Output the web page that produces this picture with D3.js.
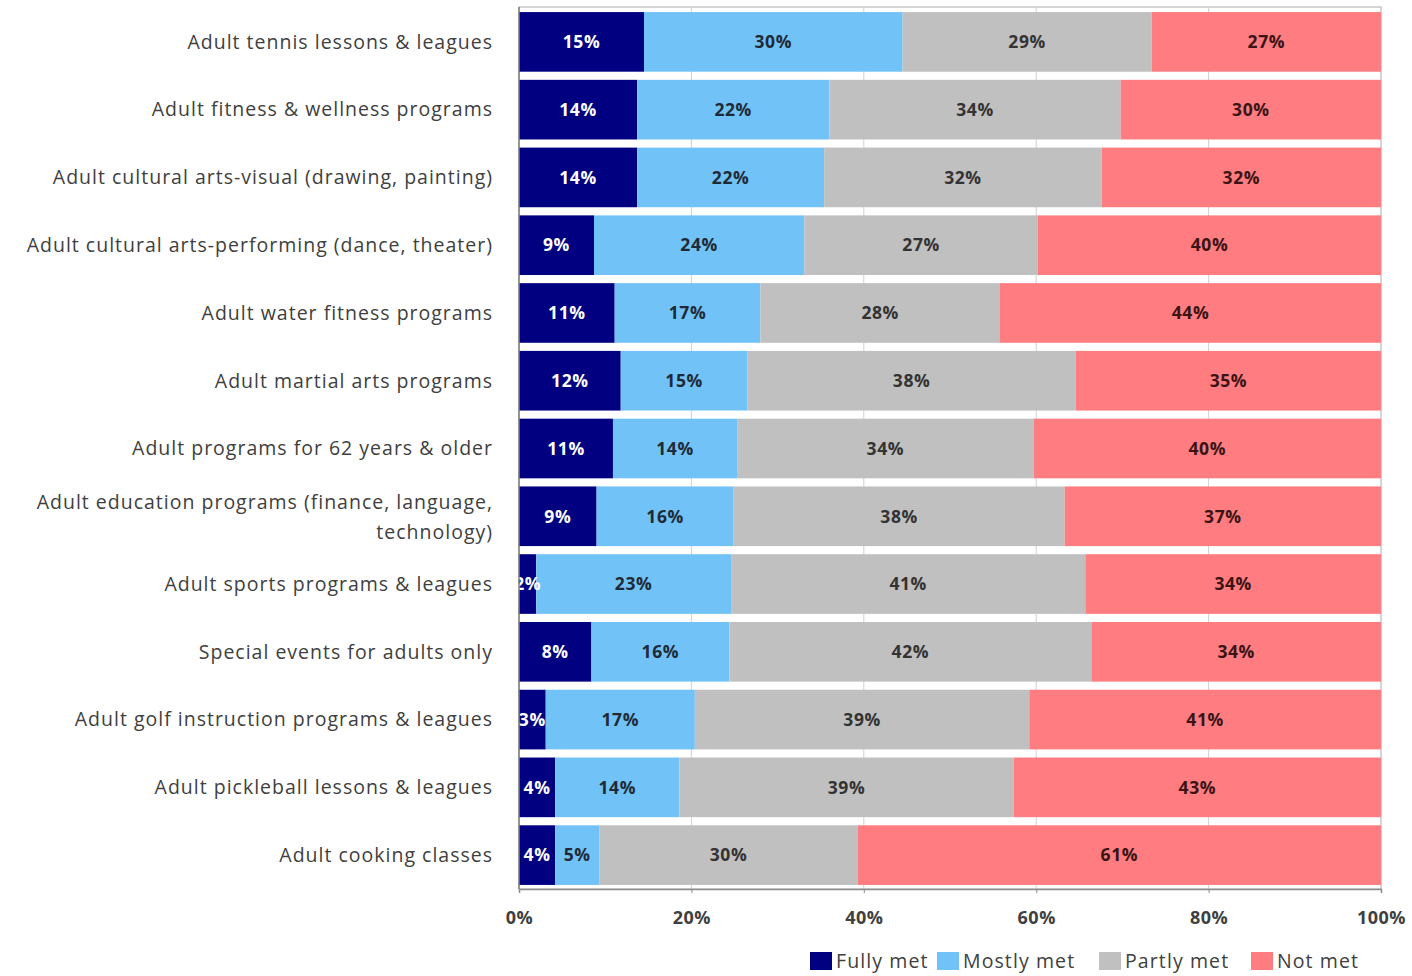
<!DOCTYPE html>
<html>
<head>
<meta charset="utf-8">
<script src="https://cdn.jsdelivr.net/npm/d3@7"></script>
<style>
  body { margin: 0; background: #ffffff; }
  svg { display: block; font-family: "Open Sans", Lato, sans-serif; }
</style>
</head>
<body>
<script>
const categories = [
  "Adult tennis lessons & leagues",
  "Adult fitness & wellness programs",
  "Adult cultural arts-visual (drawing, painting)",
  "Adult cultural arts-performing (dance, theater)",
  "Adult water fitness programs",
  "Adult martial arts programs",
  "Adult programs for 62 years & older",
  "Adult education programs (finance, language,|technology)",
  "Adult sports programs & leagues",
  "Special events for adults only",
  "Adult golf instruction programs & leagues",
  "Adult pickleball lessons & leagues",
  "Adult cooking classes"
];
const seriesNames = ["Fully met", "Mostly met", "Partly met", "Not met"];
const fullyMet  = [14.5, 13.7, 13.7, 8.7, 11.1, 11.8, 10.9, 9.0, 2.0, 8.4, 3.1, 4.2, 4.2];
const mostlyMet = [30.0, 22.3, 21.7, 24.4, 16.9, 14.7, 14.4, 15.9, 22.6, 16.0, 17.3, 14.4, 5.1];
const partlyMet = [28.9, 33.8, 32.2, 27.1, 27.8, 38.1, 34.4, 38.4, 41.1, 42.0, 38.8, 38.8, 30.0];
const notMet    = [26.6, 30.2, 32.4, 39.8, 44.2, 35.4, 40.3, 36.7, 34.3, 33.6, 40.8, 42.6, 60.7];
const xTicks = [0, 20, 40, 60, 80, 100];

const colors = ["#000080", "#71c3f7", "#c0c0c0", "#ff7c80"];
const labelColors = ["#ffffff", "#1f2a36", "#333333", "#3a1414"];

const width = 1412, height = 976;
const margin = {top: 8, right: 31, bottom: 87, left: 519};

const rows = categories.map((c, i) => ({
  name: c,
  "Fully met": fullyMet[i],
  "Mostly met": mostlyMet[i],
  "Partly met": partlyMet[i],
  "Not met": notMet[i]
}));

const stacked = d3.stack().keys(seriesNames)(rows);

const svg = d3.select("body").append("svg")
  .attr("width", width)
  .attr("height", height);

const x = d3.scaleLinear()
  .domain([0, 100])
  .range([margin.left, width - margin.right]);

const y = d3.scaleBand()
  .domain(categories)
  .range([margin.top, height - margin.bottom])
  .paddingInner(0.12)
  .paddingOuter(0.06);

// faint gridlines
svg.append("g")
  .selectAll("line")
  .data(xTicks.slice(1, -1))
  .join("line")
  .attr("x1", d => x(d))
  .attr("x2", d => x(d))
  .attr("y1", margin.top)
  .attr("y2", height - margin.bottom)
  .attr("stroke", "#d0d0d0")
  .attr("stroke-width", 1);

// plot frame
svg.append("rect")
  .attr("x", x(0))
  .attr("y", margin.top - 1)
  .attr("width", x(100) - x(0))
  .attr("height", height - margin.bottom - margin.top + 1)
  .attr("fill", "none")
  .attr("stroke", "#b8b8b8")
  .attr("stroke-width", 1.2);

const groups = svg.append("g")
  .selectAll("g")
  .data(stacked)
  .join("g")
  .attr("fill", (d, i) => colors[i]);

groups.selectAll("rect")
  .data(d => d)
  .join("rect")
  .attr("x", d => x(d[0]))
  .attr("y", d => y(d.data.name))
  .attr("width", d => x(d[1]) - x(d[0]))
  .attr("height", y.bandwidth());

// value labels
svg.append("g")
  .selectAll("g")
  .data(stacked)
  .join("g")
  .attr("fill", (d, i) => labelColors[i])
  .selectAll("text")
  .data(d => d)
  .join("text")
  .attr("x", d => x((d[0] + d[1]) / 2))
  .attr("y", d => y(d.data.name) + y.bandwidth() / 2)
  .attr("dy", "0.36em")
  .attr("text-anchor", "middle")
  .attr("font-size", "17.5px")
  .attr("font-weight", "700")
  .attr("letter-spacing", "0.6px")
  .text(d => Math.round(d[1] - d[0]) + "%");

// left axis line
svg.append("line")
  .attr("x1", x(0)).attr("x2", x(0))
  .attr("y1", margin.top - 1)
  .attr("y2", height - margin.bottom)
  .attr("stroke", "#7f7f7f")
  .attr("stroke-width", 1.5);

// category labels
const catLabels = svg.append("g")
  .selectAll("text")
  .data(categories)
  .join("text")
  .attr("x", 493)
  .attr("y", d => y(d) + y.bandwidth() / 2)
  .attr("text-anchor", "end")
  .attr("font-size", "19.5px")
  .attr("letter-spacing", "1px")
  .attr("fill", "#404040");

catLabels.each(function(d) {
  const parts = d.split("|");
  const t = d3.select(this);
  parts.forEach((p, j) => {
    t.append("tspan")
      .attr("x", 493)
      .attr("dy", j === 0 ? (parts.length > 1 ? "-0.35em" : "0.35em") : "1.5em")
      .text(p);
  });
});

// x axis
const xAxis = svg.append("g")
  .attr("transform", `translate(0,${height - margin.bottom})`)
  .call(d3.axisBottom(x).tickValues(xTicks).tickFormat(d => d + "%").tickSize(4).tickPadding(18));

xAxis.select(".domain").attr("stroke", "#8c8c8c").attr("stroke-width", 1.5);
xAxis.selectAll(".tick line").attr("stroke", "#8c8c8c");
xAxis.selectAll(".tick text")
  .attr("font-size", "18px")
  .attr("font-weight", "700")
  .attr("letter-spacing", "0.5px")
  .attr("fill", "#404040")
  .attr("font-family", "'Open Sans', sans-serif");

// legend
const legendX = [810, 937, 1099, 1251];
const legend = svg.append("g")
  .selectAll("g")
  .data(seriesNames)
  .join("g")
  .attr("transform", (d, i) => `translate(${legendX[i]},952)`);

legend.append("rect")
  .attr("width", 22)
  .attr("height", 18)
  .attr("fill", (d, i) => colors[i]);

legend.append("text")
  .attr("x", 26)
  .attr("y", 9)
  .attr("dy", "0.36em")
  .attr("font-size", "19.5px")
  .attr("letter-spacing", "1.1px")
  .attr("fill", "#404040")
  .text(d => d);
</script>
</body>
</html>
